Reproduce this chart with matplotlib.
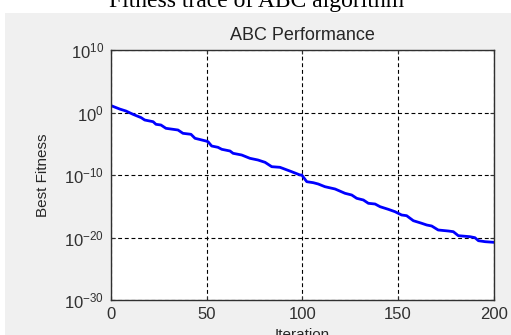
import matplotlib
matplotlib.use("Agg")
import matplotlib.pyplot as plt
from matplotlib.patches import Rectangle
from matplotlib.ticker import FixedLocator, NullLocator, LogFormatterSciNotation

plt.rcParams['font.family'] = ['Liberation Sans', 'DejaVu Sans']
plt.rcParams['mathtext.fontset'] = 'custom'
plt.rcParams['mathtext.rm'] = 'Liberation Sans'
plt.rcParams['mathtext.it'] = 'Liberation Sans:italic'

# best fitness trace (iteration, log10 of fitness)
iterations = [0, 4.5, 7.8, 11.5, 15.8, 17.6, 22, 23.5, 26.1, 28.7, 35, 37.6, 41.8, 43.9, 49.6,
              50.7, 52.6, 55.9, 57.9, 62.2, 63.8, 68.3, 72.6, 76.8, 80.5, 84, 88.3, 94.4, 98.8,
              99.7, 102.3, 105.7, 108.3, 111.8, 117.1, 122.3, 125.8, 128.4, 131.9, 134.5, 138,
              140.6, 144.9, 148.4, 151.9, 154.5, 158, 162.4, 165, 167.6, 171, 176.3, 178.9,
              181.5, 187.6, 190.2, 192, 195.5, 200]
log_fitness = [1.1, 0.56, 0.24, -0.29, -0.83, -1.2, -1.47, -1.89, -2.0, -2.53, -2.8, -3.33, -3.49,
               -4.13, -4.56, -4.67, -5.36, -5.57, -5.89, -6.16, -6.53, -6.8, -7.33, -7.6, -7.97,
               -8.67, -8.77, -9.47, -10.0, -10.0, -11.07, -11.23, -11.44, -11.87, -12.24, -12.93,
               -13.2, -13.73, -14.0, -14.53, -14.64, -15.07, -15.49, -15.87, -16.4, -16.51,
               -17.31, -17.73, -18.0, -18.16, -18.8, -18.96, -19.07, -19.71, -19.87, -20.03,
               -20.51, -20.67, -20.77]
best_fitness = [10.0 ** v for v in log_fitness]

x_ticks = [0, 50, 100, 150, 200]
y_ticks = [1e-30, 1e-20, 1e-10, 1e0, 1e10]

fig = plt.figure(figsize=(5.11, 3.35), dpi=100)
fig.patch.set_facecolor('white')

# grey matlab figure panel, behind the axes
fig.patches.append(Rectangle((5 / 511, 0), 1, 1 - 13 / 335, transform=fig.transFigure,
                             facecolor='#f0f0f0', edgecolor='none', zorder=-5))

fig.text(257 / 511, 1 - 1 / 335, "Fitness trace of ABC algorithm", family='Liberation Serif',
         fontsize=17, ha='center', va='center')

ax = fig.add_axes([111 / 511, 1 - 300 / 335, (493.7 - 111) / 511, 250 / 335])
ax.set_facecolor('white')
ax.plot(iterations, best_fitness, color='#0000ff', lw=2)
ax.set_yscale('log')
ax.set_xlim(0, 200)
ax.set_ylim(1e-30, 1e10)
ax.xaxis.set_major_locator(FixedLocator(x_ticks))
ax.yaxis.set_major_locator(FixedLocator(y_ticks))
ax.yaxis.set_minor_locator(NullLocator())
ax.yaxis.set_major_formatter(LogFormatterSciNotation())
ax.grid(True, color='black', linestyle=(0, (3.5, 2.5)), lw=0.8)
ax.tick_params(direction='in', length=3, labelsize=12, colors='#303030', pad=5,
               top=True, right=True)
for s in ax.spines.values():
    s.set_color('#303030')
    s.set_linewidth(1)

ax.set_title("ABC Performance", fontsize=13, color='#262626', pad=7)
ax.set_xlabel("Iteration", fontsize=11, color='#262626')
ax.set_ylabel("Best Fitness", fontsize=11, color='#262626')
ax.xaxis.set_label_coords(0.5, -0.112)
ax.yaxis.set_label_coords(-0.16, 0.5)

fig.savefig("out.png", dpi=100)
